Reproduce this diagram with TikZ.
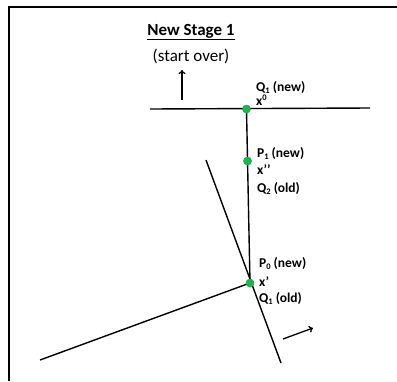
\documentclass[tikz,border=0pt]{standalone}
\usepackage{fontspec}
\setmainfont{Carlito}
\usetikzlibrary{arrows.meta}
\definecolor{dotgreen}{RGB}{34,177,76}
\newcommand{\mysub}[1]{\raisebox{-0.18em}{\fontsize{8.5}{9}\selectfont #1}}
\newcommand{\mysup}[1]{\raisebox{0.32em}{\fontsize{8.5}{9}\selectfont #1}}
\tikzset{
  ln/.style={line width=1.4pt, black},
  dot/.style={circle, fill=dotgreen, inner sep=0pt, minimum size=8.5pt},
  lbl/.style={anchor=base west, inner sep=0pt, font=\fontsize{13.5}{15}\selectfont\bfseries},
  arr/.style={line width=1.3pt, -{To[length=4pt,width=7pt]}}
}
\begin{document}
\begin{tikzpicture}[x=1pt,y=-1pt]
\useasboundingbox (0,0) rectangle (397,381);
% frame (top and left only)
\draw[line width=2.6pt] (9,381) -- (9,7) -- (397,7);
% title
\node[inner sep=0pt, font=\fontsize{17}{19}\selectfont\bfseries] (title) at (191,32) {\underline{New Stage 1}};
\node[inner sep=0pt, font=\fontsize{17}{19}\selectfont] (sub) at (191,56) {(start over)};
% dots
\node[dot] (Q1) at (246.5,109) {};
\node[dot] (P1) at (247.5,161) {};
\node[dot] (P0) at (250,283) {};
% lines
\coordinate (hl) at (150,109);
\coordinate (hr) at (370,108);
\coordinate (st) at (206,160);
\coordinate (sb) at (281,363);
\coordinate (ll) at (40,360);
\draw[ln] (hl) -- (hr);
\draw[ln] (Q1.center) -- (P0.center);
\draw[ln] (st) -- (sb);
\draw[ln] (ll) -- (P0.center);
\node[dot] at (Q1) {};
\node[dot] at (P1) {};
\node[dot] at (P0) {};
% arrows
\coordinate (a1s) at (182,100);
\coordinate (a1e) at (182,70);
\draw[arr] (a1s) -- (a1e);
\coordinate (a2s) at (283,339);
\coordinate (a2e) at (313,328);
\draw[arr] (a2s) -- (a2e);
% labels
\node[lbl] (lq1) at (256,91) {Q\mysub{1} (new)};
\node[lbl] (lx0) at (256,105) {x\mysup{0}};
\node[lbl] (lp1) at (257,157) {P\mysub{1} (new)};
\node[lbl] (lx2) at (257,174) {x’’};
\node[lbl] (lq2) at (257,192) {Q\mysub{2} (old)};
\node[lbl] (lp0) at (259,267) {P\mysub{0} (new)};
\node[lbl] (lx1) at (259,286) {x’};
\node[lbl] (lq1o) at (259,302) {Q\mysub{1} (old)};
\end{tikzpicture}
\end{document}
